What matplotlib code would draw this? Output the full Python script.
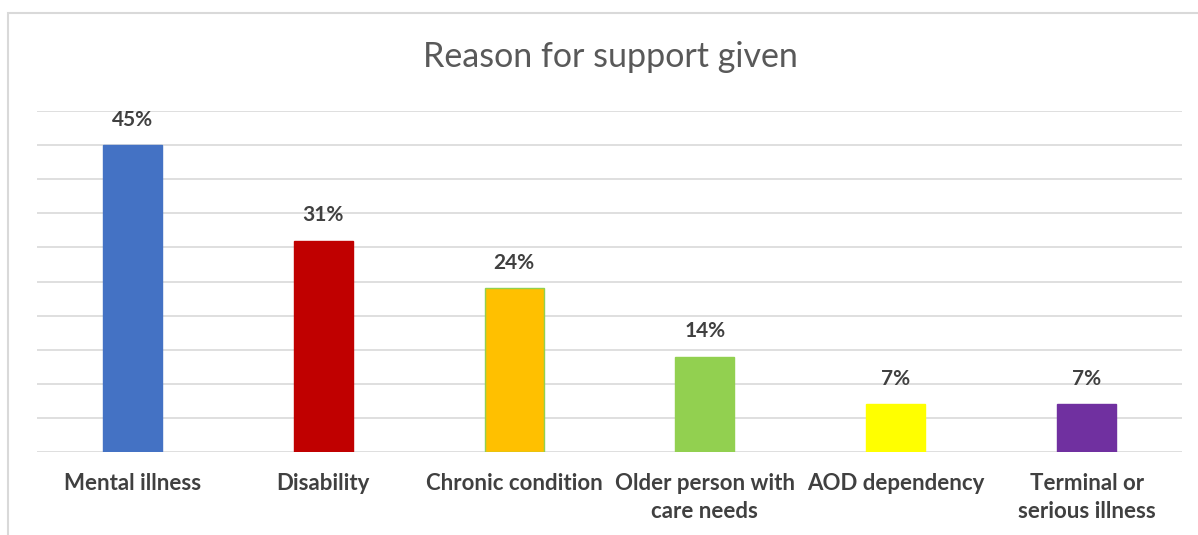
import matplotlib

matplotlib.use('Agg')
import matplotlib.pyplot as plt
from matplotlib.patches import Rectangle

categories = ['Mental illness', 'Disability', 'Chronic condition',
              'Older person with\ncare needs', 'AOD dependency',
              'Terminal or\nserious illness']
values = [45, 31, 24, 14, 7, 7]
colors = ['#4472C4', '#C00000', '#FFC000', '#92D050', '#FFFF00', '#7030A0']
edge_colors = ['#4472C4', '#C00000', '#92D050', '#92D050', '#FFFF00', '#7030A0']
title = 'Reason for support given'

plt.rcParams['font.family'] = ['Lato', 'DejaVu Sans']
text_grey = '#404040'
grid_grey = '#D9D9D9'

fig = plt.figure(figsize=(11.98, 5.35), dpi=100)
ax = fig.add_axes([37 / 1198, 83 / 535, 1145 / 1198, 341 / 535])

# outer chart frame (cropped on the right and bottom in the reference)
fig.patches.append(Rectangle((8 / 1198, -0.1), 1.2, 1 - 13 / 535 + 0.1,
                             transform=fig.transFigure, fill=False,
                             edgecolor=grid_grey, linewidth=1.5))

x = range(len(categories))
bars = ax.bar(x, values, width=0.31, color=colors, edgecolor=edge_colors,
              linewidth=1.0, zorder=3)

for rect, v in zip(bars, values):
    ax.annotate(f'{v}%', (rect.get_x() + rect.get_width() / 2, v),
                xytext=(0, 11), textcoords='offset points',
                ha='center', va='bottom', fontsize=15, fontweight='bold',
                color=text_grey)

ax.set_xlim(-0.5, len(categories) - 0.5)
ax.set_ylim(0, 50)
ax.set_yticks(range(0, 51, 5))
ax.yaxis.grid(True, color=grid_grey, linewidth=1.2, zorder=0)
ax.tick_params(axis='y', left=False, labelleft=False)
ax.tick_params(axis='x', length=0, pad=15)
ax.set_xticks(list(x))
ax.set_xticklabels(categories, fontsize=16, fontweight='bold',
                   color=text_grey, linespacing=1.45)
for s in ax.spines.values():
    s.set_visible(False)

fig.text(610 / 1198, 1 - 57 / 535, title, ha='center', va='center',
         fontsize=24.5, color='#595959')

fig.savefig('out.png', dpi=100)
